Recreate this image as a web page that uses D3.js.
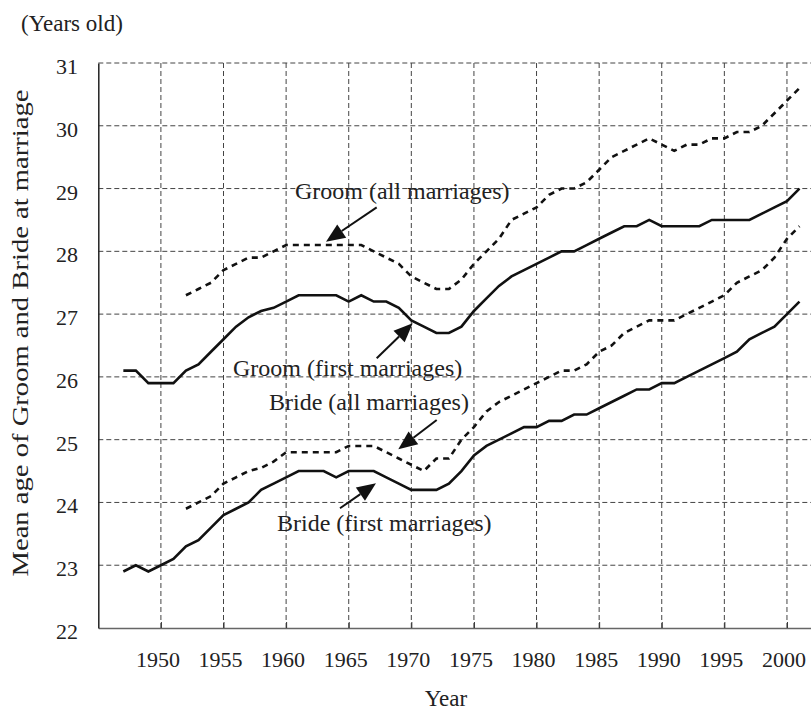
<!DOCTYPE html>
<html lang="en">
<head>
<meta charset="UTF-8">
<title>Mean age at marriage</title>
<script src="https://d3js.org/d3.v7.min.js"></script>
<style>
  body { margin: 0; background: #fff; }
  svg text { font-family: "Liberation Serif", "DejaVu Serif", serif; fill: #222; }
</style>
</head>
<body>
<div id="chart"></div>
<script>
// years for the first-marriage series (1947-2001)
const yearsFirst = [1947, 1948, 1949, 1950, 1951, 1952, 1953, 1954, 1955, 1956,
    1957, 1958, 1959, 1960, 1961, 1962, 1963, 1964, 1965, 1966,
    1967, 1968, 1969, 1970, 1971, 1972, 1973, 1974, 1975, 1976,
    1977, 1978, 1979, 1980, 1981, 1982, 1983, 1984, 1985, 1986,
    1987, 1988, 1989, 1990, 1991, 1992, 1993, 1994, 1995, 1996,
    1997, 1998, 1999, 2000, 2001];
// years for the all-marriage series (1952-2001)
const yearsAll = [1952, 1953, 1954, 1955, 1956,
    1957, 1958, 1959, 1960, 1961, 1962, 1963, 1964, 1965, 1966,
    1967, 1968, 1969, 1970, 1971, 1972, 1973, 1974, 1975, 1976,
    1977, 1978, 1979, 1980, 1981, 1982, 1983, 1984, 1985, 1986,
    1987, 1988, 1989, 1990, 1991, 1992, 1993, 1994, 1995, 1996,
    1997, 1998, 1999, 2000, 2001];

const groomFirst = [26.1, 26.1, 25.9, 25.9, 25.9, 26.1, 26.2, 26.4, 26.6, 26.8,
    26.95, 27.05, 27.1, 27.2, 27.3, 27.3, 27.3, 27.3, 27.2, 27.3,
    27.2, 27.2, 27.1, 26.9, 26.8, 26.7, 26.7, 26.8, 27.05, 27.25,
    27.45, 27.6, 27.7, 27.8, 27.9, 28.0, 28.0, 28.1, 28.2, 28.3,
    28.4, 28.4, 28.5, 28.4, 28.4, 28.4, 28.4, 28.5, 28.5, 28.5,
    28.5, 28.6, 28.7, 28.8, 29.0];
const groomAll = [27.3, 27.4, 27.5, 27.7, 27.8,
    27.9, 27.9, 28.0, 28.1, 28.1, 28.1, 28.1, 28.1, 28.1, 28.1,
    28.0, 27.9, 27.8, 27.6, 27.5, 27.4, 27.4, 27.55, 27.8, 28.0,
    28.2, 28.5, 28.6, 28.7, 28.9, 29.0, 29.0, 29.1, 29.3, 29.5,
    29.6, 29.7, 29.8, 29.7, 29.6, 29.7, 29.7, 29.8, 29.8, 29.9,
    29.9, 30.0, 30.2, 30.4, 30.6];
const brideFirst = [22.9, 23.0, 22.9, 23.0, 23.1, 23.3, 23.4, 23.6, 23.8, 23.9,
    24.0, 24.2, 24.3, 24.4, 24.5, 24.5, 24.5, 24.4, 24.5, 24.5,
    24.5, 24.4, 24.3, 24.2, 24.2, 24.2, 24.3, 24.5, 24.75, 24.9,
    25.0, 25.1, 25.2, 25.2, 25.3, 25.3, 25.4, 25.4, 25.5, 25.6,
    25.7, 25.8, 25.8, 25.9, 25.9, 26.0, 26.1, 26.2, 26.3, 26.4,
    26.6, 26.7, 26.8, 27.0, 27.2];
const brideAll = [23.9, 24.0, 24.1, 24.3, 24.4,
    24.5, 24.55, 24.65, 24.8, 24.8, 24.8, 24.8, 24.8, 24.9, 24.9,
    24.9, 24.8, 24.7, 24.6, 24.5, 24.7, 24.7, 25.0, 25.2, 25.45,
    25.6, 25.7, 25.8, 25.9, 26.0, 26.1, 26.1, 26.2, 26.4, 26.5,
    26.7, 26.8, 26.9, 26.9, 26.9, 27.0, 27.1, 27.2, 27.3, 27.5,
    27.6, 27.7, 27.9, 28.2, 28.4];

const xTicks = [1950, 1955, 1960, 1965, 1970, 1975, 1980, 1985, 1990, 1995, 2000];
const yTicks = [22, 23, 24, 25, 26, 27, 28, 29, 30, 31];

const W = 811, H = 714;
const svg = d3.select("#chart").append("svg")
    .attr("width", W).attr("height", H);

const x = d3.scaleLinear().domain([1945, 2002]).range([98.3, 812]);
const y = d3.scaleLinear().domain([22, 31]).range([628, 63]);

// grid
svg.append("g").selectAll("line").data(yTicks.slice(1)).join("line")
    .attr("x1", x(1945)).attr("x2", W)
    .attr("y1", d => y(d)).attr("y2", d => y(d))
    .attr("stroke", "#444").attr("stroke-width", 1)
    .attr("stroke-dasharray", "5,3");
svg.append("g").selectAll("line").data(xTicks).join("line")
    .attr("x1", d => x(d)).attr("x2", d => x(d))
    .attr("y1", y(31)).attr("y2", y(22))
    .attr("stroke", "#444").attr("stroke-width", 1)
    .attr("stroke-dasharray", "5,3");

// axes
const xAxis = svg.append("g")
    .attr("transform", `translate(0,${y(22)})`)
    .call(d3.axisBottom(x).tickValues(xTicks).tickSizeInner(-6).tickSizeOuter(0).tickFormat(""));
xAxis.select(".domain").attr("stroke", "#666").attr("stroke-width", 1.5);
xAxis.selectAll(".tick line").attr("stroke", "#333");

const yAxis = svg.append("g")
    .attr("transform", `translate(${x(1945)},0)`)
    .call(d3.axisLeft(y).tickValues(yTicks).tickSize(0).tickFormat(""));
yAxis.select(".domain").attr("stroke", "#222").attr("stroke-width", 1.5);

// tick labels
svg.append("g").selectAll("text").data(xTicks).join("text")
    .attr("x", d => x(d) - 3).attr("y", 667)
    .attr("text-anchor", "middle")
    .style("font-size", "22px")
    .text(d => d);
svg.append("g").selectAll("text").data(yTicks).join("text")
    .attr("x", 78).attr("y", d => y(d) + 11)
    .attr("text-anchor", "end")
    .style("font-size", "22px")
    .text(d => d);

// axis titles
svg.append("text")
    .attr("x", 21).attr("y", 31)
    .style("font-size", "23px")
    .text("(Years old)");
svg.append("text")
    .attr("transform", "translate(28,333) rotate(-90)")
    .attr("text-anchor", "middle")
    .attr("textLength", 487).attr("lengthAdjust", "spacingAndGlyphs")
    .style("font-size", "23px")
    .text("Mean age of Groom and Bride at marriage");
svg.append("text")
    .attr("x", 446).attr("y", 706)
    .attr("text-anchor", "middle")
    .style("font-size", "23px")
    .text("Year");

// series
const line = d3.line().x(d => x(d[0])).y(d => y(d[1]));
const series = [
    { years: yearsAll, vals: groomAll, dash: "6,5" },
    { years: yearsFirst, vals: groomFirst, dash: null },
    { years: yearsAll, vals: brideAll, dash: "6,5" },
    { years: yearsFirst, vals: brideFirst, dash: null }
];
series.forEach(s => {
    svg.append("path")
        .datum(d3.zip(s.years, s.vals))
        .attr("fill", "none")
        .attr("stroke", "#111")
        .attr("stroke-width", 2.6)
        .attr("stroke-dasharray", s.dash)
        .attr("d", line);
});

// annotations: label, arrow tail -> tip
const notes = [
    { text: "Groom (all marriages)", tx: 295, ty: 199, from: [376.7, 207.3], to: [326, 241.7] },
    { text: "Groom (first marriages)", tx: 233, ty: 376, from: [376.7, 358.3], to: [412.7, 323.3] },
    { text: "Bride (all marriages)", tx: 269, ty: 410, from: [436.7, 420], to: [398.3, 449.3] },
    { text: "Bride (first marriages)", tx: 277, ty: 531, from: [340, 508.3], to: [376, 483.3] }
];
notes.forEach(n => {
    svg.append("text")
        .attr("x", n.tx).attr("y", n.ty)
        .style("font-size", "24px")
        .text(n.text);
    const dx = n.to[0] - n.from[0], dy = n.to[1] - n.from[1];
    const len = Math.hypot(dx, dy), ux = dx / len, uy = dy / len;
    const hl = 19, hw = 8;
    const bx = n.to[0] - ux * hl, by = n.to[1] - uy * hl;
    svg.append("line")
        .attr("x1", n.from[0]).attr("y1", n.from[1])
        .attr("x2", bx).attr("y2", by)
        .attr("stroke", "#111").attr("stroke-width", 2);
    svg.append("path")
        .attr("d", `M${n.to[0]},${n.to[1]}L${bx - uy * hw},${by + ux * hw}L${bx + uy * hw},${by - ux * hw}Z`)
        .attr("fill", "#111");
});
</script>
</body>
</html>
